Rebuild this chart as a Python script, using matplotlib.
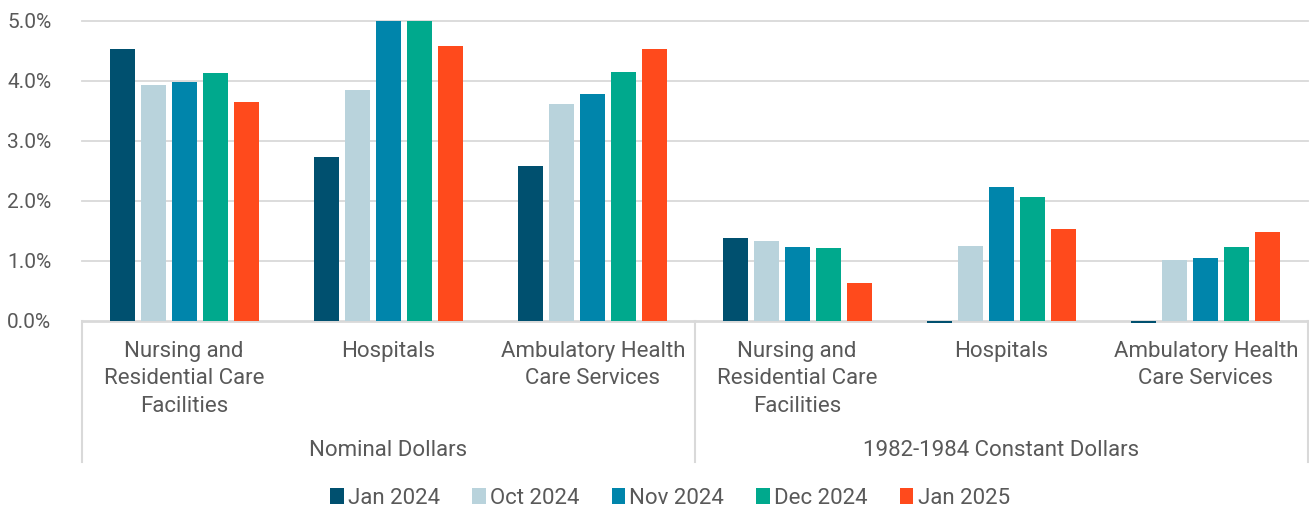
import matplotlib
matplotlib.use("Agg")
import matplotlib.pyplot as plt
import matplotlib.transforms as mtransforms
from matplotlib.patches import Patch
from matplotlib.lines import Line2D
import numpy as np

plt.rcParams['font.family'] = ['Roboto', 'DejaVu Sans']

categories = ["Nursing and\nResidential Care\nFacilities", "Hospitals", "Ambulatory Health\nCare Services",
              "Nursing and\nResidential Care\nFacilities", "Hospitals", "Ambulatory Health\nCare Services"]
groups = ["Nominal Dollars", "1982-1984 Constant Dollars"]
series_names = ["Jan 2024", "Oct 2024", "Nov 2024", "Dec 2024", "Jan 2025"]
jan_2024 = [4.53, 2.73, 2.58, 1.38, -0.03, -0.03]
oct_2024 = [3.94, 3.85, 3.61, 1.33, 1.25, 1.02]
nov_2024 = [3.98, 5.05, 3.79, 1.23, 2.23, 1.05]
dec_2024 = [4.13, 5.00, 4.15, 1.21, 2.07, 1.24]
jan_2025 = [3.65, 4.58, 4.53, 0.63, 1.54, 1.49]
colors = ["#00506F", "#B9D3DC", "#0085AB", "#00A98D", "#FF4A1C"]
yticks = [0, 1, 2, 3, 4, 5]

series = [jan_2024, oct_2024, nov_2024, dec_2024, jan_2025]
text_color = "#595959"
grid_color = "#D9D9D9"

fig = plt.figure(figsize=(13.09, 5.08), dpi=100)
ax = fig.add_axes([82/1309, (508-321)/508, (1308-82)/1309, 300/508])

x = np.arange(len(categories)) + 0.5
step = 0.152
width = 0.122
for i, (vals, c) in enumerate(zip(series, colors)):
    offs = (i - 2) * step
    bars = ax.bar(x + offs, vals, width=width, color=c, zorder=3)
    for b, v in zip(bars, vals):
        if v < 0:
            b.set_clip_on(False)

ax.set_xlim(0, len(categories))
ax.set_ylim(0, 5)
ax.set_yticks(yticks)
ax.set_yticklabels([f"{t:.1f}%" for t in yticks], fontsize=15, color=text_color)
ax.tick_params(axis='y', length=0, pad=22)
ax.set_xticks([])
for s in ax.spines.values():
    s.set_visible(False)
for t in yticks[1:]:
    ax.axhline(t, color=grid_color, lw=1.3, zorder=1, clip_on=False)
ax.axhline(0, color=grid_color, lw=2, zorder=2, clip_on=False)

trans = mtransforms.blended_transform_factory(ax.transData, ax.transAxes)
for xc, lab in zip(x, categories):
    ax.text(xc, -0.066, lab, transform=trans, ha='center', va='top', fontsize=16,
            color=text_color, linespacing=1.4)
for gi, g in enumerate(groups):
    ax.text(gi * 3 + 1.5, -0.433, g, transform=trans, ha='center', va='center',
            fontsize=16, color=text_color)
for xs in [0, 3, 6]:
    xx = xs if xs < 6 else 5.998
    ax.add_line(Line2D([xx, xx], [0, -0.47], transform=trans, color=grid_color,
                       lw=1.5, clip_on=False))

handles = [Patch(facecolor=c, edgecolor='none') for c in colors]
fig.legend(handles, series_names, loc='center', bbox_to_anchor=(670/1309, 1 - 498/508),
           ncol=5, frameon=False, fontsize=16, handlelength=0.6, handleheight=0.7,
           handletextpad=0.2, columnspacing=1.45, labelcolor=text_color)

fig.savefig("out.png", dpi=100)
